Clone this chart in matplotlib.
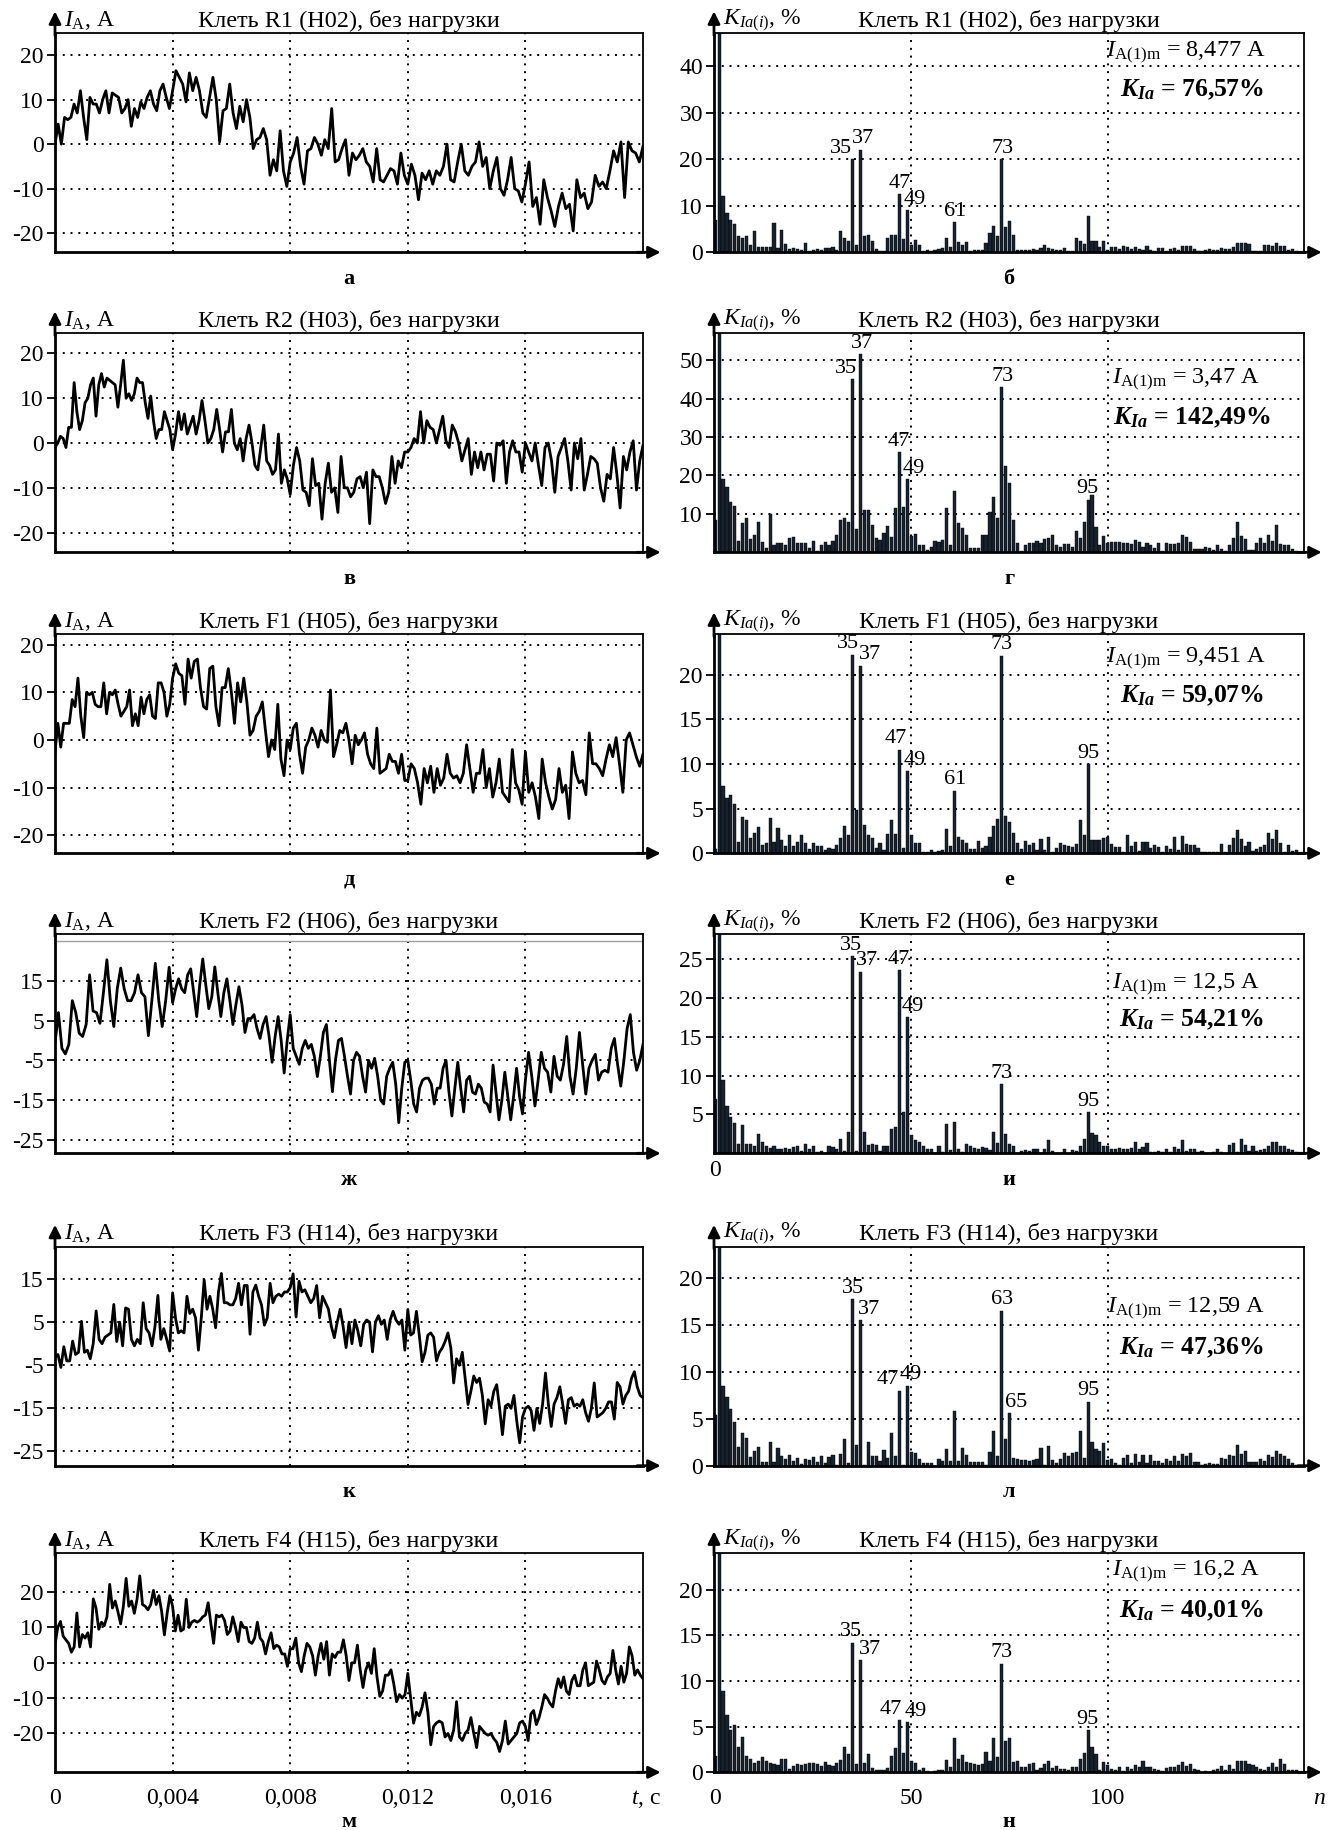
import matplotlib.pyplot as plt
import numpy as np

plt.rcParams['font.family'] = ['Liberation Serif', 'DejaVu Serif']
plt.rcParams['mathtext.fontset'] = 'custom'
plt.rcParams['mathtext.rm'] = 'Liberation Serif'
plt.rcParams['mathtext.it'] = 'Liberation Serif:italic'
plt.rcParams['mathtext.bf'] = 'Liberation Serif:bold:italic'
plt.rcParams['font.size'] = 16

# ---- oscillograms: current values per 4 ms interval
wave_r1 = [
    [0, 4.5, 0, 6, 5.5, 6, 9, 7, 12, 6, 1, 10.5, 9, 9, 7, 10, 12, 7, 11.5, 11, 10.5, 7, 8, 10, 4, 8, 6, 9.5, 8,
     10.5, 12, 9, 7.5, 12, 13.5, 10.5, 8],
    [12, 16.5, 15, 13.5, 9.5, 16, 12, 15, 12, 7, 6, 10.5, 15, 10, 0.5, 7.5, 8, 13.5, 7, 3.5, 8.5, 5, 10, 6, -1,
     1, 1.5, 3.5, 1, -7, -3.5, -6, 3, -6, -9.5],
    [-4, -2, 1.5, -5, -9, -1.5, -1, 1.5, 0, -2.5, 1, -1, 8, -4, -3.5, -1, 1, -7, -2, -3.5, -2.5, -1, -4, -5,
     -8.5, -1, -8, -8.5, -7, -5.5, -6, -9, -2, -7],
    [-9, -4.5, -7, -12.5, -6.5, -8, -6, -9, -6, -7, -5, 0, -8, -8.5, -4, 0, -6, -7, -5, -4, 0.5, -5, -3, -10,
     -6, -3, -10, -11.5, -8, -3, -10, -10.5, -13],
    [-9, -4, -14, -12, -18, -8, -12, -15, -18.5, -14, -11, -14.5, -13.5, -19.5, -8, -12, -11, -14.5, -13, -7,
     -9.5, -8.5, -10, -6, -1.5, -4, 0.5, -12, 0.5, -1.5, -2, -4, -0.5],
]
wave_r2 = [
    [-1, 0, 1.5, 1, -1, 3.5, 3.5, 13.5, 7, 3, 5, 9, 10, 13, 14.5, 6, 13, 15.5, 12.5, 14.5, 14, 13.5, 13, 8, 13,
     18.5, 10, 11, 9.5, 11, 14.5, 13.5, 13.5, 9, 5.5, 10.5, 5, 1, 3, 3, 7, 5, 3],
    [-1.5, 2, 7, 3, 6.5, 2, 4, 6, 2, 5, 9.5, 5, 0, 1, 3, 7.5, 3, -2, 2.5, 2.5, 7.5, 0, -1.5, 1, -4, 1, 4, 0,
     -5, -6, -1, 4, -4, -5, -7, -6, 2, -9, -6, -8],
    [-11.5, -5, -1, -4, -10.5, -11, -14, -3.5, -9.5, -9, -17, -9, -4.5, -11, -10, -15.5, -3, -10, -10, -12,
     -11, -8, -7.5, -10, -6.5, -18, -6, -7.5, -7.5, -10, -13.5, -11, -3, -9, -4, -5.5, -2],
    [-2, -1, 1, 0, 7, 0, 5, 3.5, 3, 0, 3, 6, 0.5, -1, 4, 2.5, 0, -4, -1.5, 1, -7, -2, -5.5, -2, -6, -2.5,
     -2.5, -8.5, 0, -0.5, 0.5, -9, -2, 0.5, -2, -2, -6.5],
    [0, -2, -4, 0, -5, -9.5, -1, 0, -4, -11, -3, -1, 1, -4, -10.5, 0, -3.5, 1, -10.5, -7, -3, -3.5, -4.5,
     -10, -13, -7, -8, -1, -7, -14.5, -3, -6, -2, 0.5, -10.5, -4, -0.5],
]
wave_f1 = [
    [-2.5, 3.5, -1.5, 3.5, 3.5, 3.5, 8.5, 7, 13, 5, 0.5, 10, 9.5, 10, 7.5, 7, 7, 12, 5.5, 10, 9.5, 10.5, 7.5,
     5, 6, 7, 10.5, 3, 5.5, 3, 9, 5.5, 8.5, 9.5, 5, 4.5, 12, 12, 10, 5, 7.5],
    [13, 16, 14, 13.5, 7.5, 17, 13, 16.5, 17, 11, 7, 6.5, 15, 15.5, 7, 3, 11, 11, 15, 10, 3.5, 12, 8, 13, 8,
     1, 2, 5, 6, 8, 2, -3.5, 0, -2, 7.5, -4, -7.5, 0],
    [-2, 2.5, 3.5, -3, -7, -1.5, 0, 2.5, 1, -1.5, 2, 0, -0.5, 10.5, -3.5, -1, 2, 1.5, 3.5, 0, -5, 1, -1, 0,
     1.5, -3, -5, -6, 2.5, -7, -6.5, -6, -3, -4.5, -4.5, -7, -3, -8.5],
    [-8.5, -5, -6, -9, -13.5, -6, -9, -5.5, -11, -6, -9.5, -8, -3, -7, -8, -7.5, -9, -7, -1, -6, -11, -7, -7,
     -2, -10, -6, -12, -9, -4, -11, -12, -13, -2, -9, -10.5, -13.5],
    [-2.5, -11, -9, -12, -16.5, -4, -9, -12, -14.5, -12.5, -6, -11, -9.5, -16.5, -2.5, -7, -9, -8.5, -11.5,
     1.5, -5, -5, -6, -7.5, -4, -1, -3.5, 0.5, -5, -11, 0, 1.5, -1, -3.5, -5.5, -3],
]
wave_f2 = [
    [-0.7, 7, -2, -3.4, -1, 10, 7, 1.8, 1, 4, 16.5, 7.4, 7, 4.3, 12, 20.3, 10, 3.5, 13, 18.2, 13, 10, 10, 12,
     16.5, 12, 11, 1.2, 10, 19.4, 10, 3.5, 10, 18.4],
    [9.5, 13, 15.5, 13, 12, 16.5, 18, 12, 6, 14, 20.5, 14, 8, 11, 18.5, 12, 6, 12, 15.5, 10, 4, 9, 13.5, 9, 2,
     5.5, 5.5, 6.5, 3, 0.5, 4, 6, 1, -5.5, 1, 6, 0, -8.2, 0],
    [6.5, -2, -4, -6, -2, 0, -2, -1, -4, -9.1, -4, 2, 4, -5, -12.9, -5, 0, 0.5, -4, -9, -13.5, -5, -3, -4, -9,
     -13, -5, -7, -4.5, -9, -15, -16, -9, -7, -5.5, -11, -20.7, -12, -5.5],
    [-5, -10, -16, -18, -12, -10, -9.5, -9.5, -11, -16, -12, -12, -7, -5, -13, -19, -12, -5.5, -12, -18, -10,
     -9, -13, -13.5, -11, -12, -15.5, -16, -18, -6.2, -13, -20, -15, -8, -14, -20, -14, -7, -14, -18.5],
    [-10, -3, -9, -16.5, -10, -3, -7, -8, -13, -4, -9, -10, -6, 1, -9, -13.5, -7, 2, -6, -13.5, -7, -5, -3.5,
     -10, -8, -7.5, -8, -2, 0.5, -6, -11.5, -5, 3, 6.5, -3, -7.5, -5, -1],
]
wave_f3 = [
    [-3.1, -2.5, -5.5, -0.7, -4, -4, 0.6, -2.5, -2, 5.2, -2, -1.5, -3.5, 0, 7.6, 1, 0, 1.5, 2, 2.5, 9.1, 0.5,
     5, -0.5, 8.3, 8, 1, -0.5, 1, 0, 9.5, 3.5, 2.5, -0.5, 4, 11.2, 1, 3.5, 1, -1.7],
    [11.8, 6, 2.5, 3, 2.5, 11, 7, 8, 6, -1.5, 6, 14.8, 8, 11, 8, 3.7, 12, 16.3, 9.5, 9.5, 9, 9, 10.5, 14, 9,
     13.5, 13.5, 2.2, 12, 13.6, 11, 9, 4.3, 6, 14, 9.5, 11, 11.5, 11, 12, 12],
    [13, 16.2, 6.2, 14.5, 12, 12.5, 11, 9.5, 10.5, 13.5, 6, 11, 9.5, 8, 4, 1.4, 5, 8, 4, -0.9, 5, 0, 5.5, 3,
     -0.5, 4.5, 5.5, 5, -1.9, 5, 6.5, 4.5, 5.5, 1, 5.5, 7.5, 5.5, 4.5, 5.5, -1.5],
    [7.9, 2, 2.5, 7.5, 2, -4.2, -2, 2, 2.5, 1.5, -4, -2, -1, 0.5, 2.5, -1, -9.1, -3.5, -5, -2, -8, -14.1, -11,
     -7.5, -9, -8, -12, -18.6, -13, -14.5, -11, -9.5, -15, -21.1, -14.5, -14, -15, -12, -18, -23, -17],
    [-15, -14.5, -15.5, -20.1, -15, -18.5, -14, -6.8, -14, -19.2, -14, -12.5, -10, -14, -18.5, -13, -12.5,
     -14.5, -14, -14.5, -13, -16, -18, -15, -9.1, -17, -16.5, -16, -15, -13.5, -13.5, -17.5, -9, -10, -14, -12,
     -11, -8, -6.5, -10, -12, -12.5],
]
wave_f4 = [
    [5, 10, 11.7, 7.5, 6.5, 5.5, 3, 4.5, 14.1, 4.5, 8, 7, 8.5, 4.5, 18.1, 15.5, 9.5, 11.5, 10.5, 13, 22.2,
     15.5, 17.5, 14.5, 11, 16, 23.9, 16, 17.5, 14, 18, 24.6, 16.5, 16, 15, 16.5, 20.5, 16.5, 19, 14.5, 7.9, 14,
     19],
    [16, 9, 13.5, 9, 9.5, 18, 10, 11.5, 12, 11.5, 12, 13, 13.5, 17, 11, 5.5, 13.5, 13, 13.5, 12, 8, 9, 13, 10,
     6, 11.5, 10, 10, 6, 5.5, 7, 11.5, 7, 6, 2.5, 6, 8.5, 4, 5, 4.5, 2.5, 2.5, -1],
    [4, 4, 7, 0, -2.5, 2, 5.5, 4.5, 2, -3.5, 2, 5.5, 1, 6, -3.5, 2.5, 1.5, 3, 3, 6.5, 2, -5, 0, 0, 5, -2, -7,
     -2, 0, -3, 4, -4, -9.5, -8, -3.5, -3.5, -2, -6, -11, -9, -10, -9],
    [-3, -10, -17.1, -14, -15, -12.5, -8.5, -14, -23.2, -18, -17, -16.5, -17, -21, -20, -22, -19, -11, -21,
     -22, -20, -19, -15.5, -20, -24, -18, -19, -20, -20.5, -20, -21.5, -22.5, -25.1, -22, -16.5, -23, -22, -21,
     -20, -17, -16.5],
    [-18, -22, -14.5, -13.5, -17.5, -15.5, -12.5, -9, -10, -11.5, -12.5, -8, -4.5, -7, -4, -8, -9, -5, -3.5,
     -6.5, -6.5, -2, 0, -6.5, -6, -5.5, 0.5, -2, -5, -6, -4, -3, 3.5, -2, -6, -1, -5.5, -3, 4.5, 2, -3.5, -2,
     -3.5, -4.5],
]

# ---- harmonic spectra K_Ia(i), %, n = 0..148 (n = 1 is the fundamental, 100 %)
spec_r1 = [7, 100, 12, 8.5, 7, 6, 3.5, 3, 3.5, 1.5,
           4.5, 1.2, 1.2, 1.2, 1.2, 6.2, 1, 4.7, 1.7, 0.7,
           1, 0.8, 0.5, 2, 0.2, 0.4, 0.7, 0.5, 1, 1,
           1.2, 0.5, 4.5, 3, 2.5, 20, 1.5, 22, 3.5, 3.7,
           2.5, 0.7, 0.3, 0.3, 3, 3.8, 3.8, 12.5, 2.8, 9,
           1.5, 2.7, 1.5, 0.3, 0.5, 0.3, 0.5, 0.8, 1, 3,
           1.2, 6.5, 2.3, 1.5, 2.2, 0.3, 0.5, 0.5, 0.5, 2,
           4.2, 5.7, 3.5, 20, 5.5, 6.7, 3.7, 0.5, 0.5, 0.5,
           0.5, 0.8, 0.5, 1, 1.5, 1, 0.7, 0.5, 0.5, 1,
           0.2, 0.3, 3, 2.5, 1.7, 7.7, 2.5, 2.5, 1.2, 2.5,
           0.5, 1.1, 1.1, 0.8, 1.3, 1.2, 0.8, 1.2, 0.8, 0.5,
           1.3, 0.5, 0.3, 1, 1, 0.3, 0.7, 1, 0.5, 1.3,
           1.3, 1.4, 0.8, 0.3, 0.3, 0.4, 0.7, 0.4, 0.5, 1,
           0.8, 0.8, 1.2, 2, 2, 2, 1.7, 0.2, 0.2, 0.2,
           1.6, 1.6, 1.4, 2, 1.3, 1.3, 0.6, 0.7, 0.3]
spec_r2 = [8.5, 100, 19, 17, 13, 12, 3, 7.5, 9, 3.5,
           4.5, 8, 2.8, 1.2, 10, 2, 2.5, 2.3, 1.8, 3.8,
           4, 2.5, 2.5, 2.5, 1, 3, 0.3, 2, 2.7, 2,
           3, 4.5, 8.5, 9, 8, 45, 6, 51.5, 11, 11,
           7, 3.7, 3.2, 5, 6.8, 4, 11.5, 26, 11.7, 19,
           4.2, 4.8, 2, 2, 0.5, 1.5, 3, 2.8, 3.3, 11.5,
           2, 16, 7.7, 6.2, 4.5, 1.2, 1.2, 1.2, 4.5, 4.5,
           10.5, 14.3, 9, 43, 22.5, 18, 8.5, 2.3, 0.3, 1.8,
           2.5, 2.5, 3, 2.5, 3.5, 3.8, 4.5, 2, 1.5, 2.2,
           2.2, 1.5, 5.5, 3.7, 8, 13.7, 15, 6.7, 2, 4.2,
           2.5, 2.8, 2.8, 2.8, 2.5, 2.5, 2.2, 3.2, 2.7, 1.5,
           2.5, 1.8, 1, 2.5, 0.3, 2.5, 2.2, 2.2, 2.4, 4.6,
           4, 2.8, 0.8, 0.8, 0.8, 1.5, 1.2, 0.7, 2, 0.8,
           0.3, 2, 3.7, 7.8, 4.2, 3.5, 0.7, 0.5, 2.5, 3.7,
           2.5, 4.5, 3, 7, 2.2, 1.8, 1.8, 0.8, 0.3]
spec_f1 = [0.5, 100, 7.5, 6.2, 6.5, 5.5, 1.3, 4.1, 3.7, 1.7,
           2.3, 2.9, 0.9, 1.2, 3.9, 1.3, 2.8, 1.5, 0.8, 2,
           0.8, 1.3, 2, 1.2, 0.5, 1.2, 0.8, 0.8, 0.4, 0.6,
           0.5, 0.9, 1.7, 3.1, 2, 22.2, 4.8, 21, 3.2, 2,
           1.7, 0.6, 1.2, 0.4, 2.2, 3.7, 2.2, 11.6, 0.6, 9.2,
           2, 1.1, 1.1, 0.2, 0.1, 0.4, 0.2, 0.3, 0.4, 2.7,
           0.8, 7, 1.8, 1.5, 1.2, 0.5, 0.5, 1.4, 0.6, 0.8,
           1.8, 3, 3.8, 22.1, 4.2, 3.5, 2.3, 1.2, 0.5, 1.4,
           0.9, 1.2, 0.4, 1.6, 0.4, 1.8, 0.2, 0.6, 1.1, 0.9,
           0.8, 0.7, 1, 3.7, 2, 10, 1.5, 1.5, 1.5, 1.7,
           1.8, 1, 0.7, 0.7, 0.1, 2, 0.8, 1.3, 0.3, 1.3,
           1.3, 0.6, 0.9, 0.7, 0.2, 0.8, 0.5, 1.8, 0.4, 1.9,
           1, 0.9, 0.9, 0.6, 0.1, 0.2, 0.2, 0.2, 0.1, 1,
           0.1, 0.9, 1.7, 2.6, 1.6, 0.8, 1.3, 0.3, 0.5, 0.7,
           0.9, 2.3, 1.6, 2.6, 1.2, 0.1, 0.9, 0.3, 0.4]
spec_f2 = [7, 100, 9.4, 6.1, 4.7, 3.9, 1.2, 3.6, 1.2, 1.2,
           0.9, 2.5, 1.5, 1, 0.7, 1, 0.5, 0.6, 0.7, 0.6,
           0.8, 1, 0.3, 1.2, 0.6, 0.9, 0.2, 0.3, 0.1, 1,
           0.8, 0.6, 1.8, 0.3, 2.8, 25.4, 0.3, 23.4, 2.7, 1.1,
           1.2, 1.1, 0.3, 0.9, 0.9, 3.1, 3.4, 23.6, 5.3, 17.5,
           2.4, 1.7, 1.5, 0.9, 0.6, 0.6, 0.1, 0.9, 0.2, 3.8,
           0.4, 4, 0.5, 0.2, 1.2, 1, 0.7, 0.5, 0.8, 0.7,
           0.4, 2.7, 1.3, 8.9, 2.5, 1.2, 1, 0.1, 0.3, 0.4,
           0.3, 0.6, 0.6, 0.1, 0.6, 1.7, 0.3, 0.1, 0.1, 0.5,
           0.1, 0.4, 0.3, 1, 1.8, 5.3, 2.6, 2.4, 1.4, 1,
           1, 0.5, 0.6, 0.7, 0.5, 0.6, 0.7, 1.5, 0.5, 0.8,
           1.3, 0.2, 0.2, 0.3, 0.2, 0.6, 0.2, 0.8, 0.6, 1.7,
           0.3, 0.6, 0.5, 0.2, 0.3, 0.1, 0.1, 0.2, 0.5, 0.2,
           0.1, 1.1, 1.3, 0.2, 1.8, 1.1, 0.3, 0.9, 0.3, 0.4,
           0.6, 0.9, 1.5, 1.5, 1, 0.9, 0.6, 0.4, 0.2]
spec_f3 = [5.4, 100, 8.5, 7.3, 6, 4.7, 2, 3.5, 2.9, 0.9,
           1.6, 2, 0.4, 0.4, 2.5, 0.4, 1.9, 1, 0.7, 1.1,
           0.5, 0.8, 0.2, 0.7, 0.6, 0.9, 0.4, 1, 0.3, 0.9,
           1.1, 0.1, 1.2, 2.8, 0.3, 17.7, 2.2, 15.5, 0.1, 2.5,
           1, 1, 0.5, 1.7, 0.8, 3.5, 1, 8, 0.1, 8.5,
           1.5, 1.3, 0.7, 0.3, 0.3, 0.3, 0, 0.7, 0.5, 1.8,
           0.5, 5.8, 0.5, 1.9, 1.1, 0.4, 0.4, 0.4, 0.4, 0.1,
           1.5, 3.7, 1, 16.5, 2.8, 5.6, 0.8, 0.7, 0.6, 0.6,
           0.5, 0.6, 0.7, 1.9, 0.1, 2.1, 0.6, 0.3, 0.7, 1.3,
           1, 1.4, 1.5, 3.7, 0.8, 6.8, 2.5, 1.8, 1.6, 2.4,
           0.6, 0.7, 0.3, 0.1, 0.8, 1.1, 0.3, 1.2, 0.4, 1.1,
           0.3, 1.1, 0.5, 0.5, 0.3, 0.7, 0.5, 1, 0.5, 1.2,
           1, 1.4, 0.4, 0.4, 0.1, 0.2, 0.3, 0.2, 0.2, 0.8,
           0.7, 1.1, 1, 2.2, 1.2, 1.6, 0.4, 0.4, 0.4, 0.7,
           0.5, 1.1, 0.9, 1.6, 1.2, 1, 0.7, 0.3, 0.1]
spec_f4 = [1.8, 100, 8.9, 6.3, 4.6, 5.2, 2.8, 3.9, 1.8, 1.5,
           1, 1.2, 1.7, 1.2, 1, 0.9, 0.8, 1.5, 1.5, 0.4,
           0.7, 0.9, 0.8, 0.9, 1, 1, 0.9, 0.7, 1.1, 0.8,
           0.7, 1, 1.4, 2.8, 2, 14.2, 0.9, 12.3, 1, 2,
           0.5, 0.2, 0.3, 0.3, 0.5, 1.8, 2.7, 5.7, 2.1, 5.5,
           1.2, 1, 0.3, 0.5, 0.1, 0, 0.1, 0.2, 0.2, 1.4,
           0.6, 3.8, 1.5, 1.9, 1.1, 1, 0.9, 0.8, 0.9, 2.2,
           1.2, 3.8, 1.7, 11.9, 3.4, 3.8, 1.1, 1.2, 0.6, 0.6,
           0.9, 1, 0.3, 0.5, 0.9, 1.2, 0.5, 0.7, 0.4, 0.4,
           0.3, 0.6, 0.6, 1.5, 2.1, 4.6, 2.8, 2, 0.3, 1.1,
           0.8, 0.4, 0.2, 0.6, 0.1, 0.6, 0.4, 0.8, 0.6, 1.2,
           0.6, 0.6, 0.4, 0.2, 0.1, 0.5, 0.6, 0.6, 0.8, 1.1,
           0.7, 0.9, 0.4, 0.3, 0, 0.1, 0, 0.3, 0.4, 0.7,
           0.2, 0.8, 0.4, 1.2, 1.2, 1.2, 0.9, 0.8, 0.6, 0.4,
           0.3, 0.6, 1, 0.6, 1.5, 0.9, 0.2, 0.3, 0.3]

stands = ['R1 (H02)', 'R2 (H03)', 'F1 (H05)', 'F2 (H06)', 'F3 (H14)', 'F4 (H15)']
i1m = ['8,477', '3,47', '9,451', '12,5', '12,59', '16,2']
k_ia = ['76,57', '142,49', '59,07', '54,21', '47,36', '40,01']
waves = [wave_r1, wave_r2, wave_f1, wave_f2, wave_f3, wave_f4]
specs = [spec_r1, spec_r2, spec_f1, spec_f2, spec_f3, spec_f4]
# (harmonic number, label text, horizontal shift of the label in harmonics)
peaks = [
    [(35, '35', -2.9), (37, '37', 0.6), (47, '47', 0), (49, '49', 1.8), (61, '61', 0), (73, '73', 0.3)],
    [(35, '35', -1.8), (37, '37', 0.4), (47, '47', -0.3), (49, '49', 1.6), (73, '73', 0.3), (95, '95', -0.3)],
    [(35, '35', -1.1), (37, '37', 2.4), (47, '47', -1), (49, '49', 1.9), (61, '61', 0), (73, '73', 0),
     (95, '95', 0)],
    [(35, '35', -0.5), (37, '37', 1.8), (47, '47', -0.2), (49, '49', 1.4), (73, '73', 0), (95, '95', 0)],
    [(35, '35', 0), (37, '37', 2.3), (47, '47', -3), (49, '49', 0.8), (73, '63', 0), (75, '65', 1.8),
     (95, '95', 0)],
    [(35, '35', -0.5), (37, '37', 2.4), (47, '47', -2.4), (49, '49', 2.1), (73, '73', 0), (95, '95', -0.3)],
]
left_ticks = [[-20, -10, 0, 10, 20]] * 3 + [[-25, -15, -5, 5, 15]] * 2 + [[-20, -10, 0, 10, 20]]
left_lims = [(-24.3, 24.9), (-24.4, 24.5), (-23.8, 22.2), (-28.4, 26.7), (-28.3, 22.5), (-31, 31)]
right_ticks = [[0, 10, 20, 30, 40], [10, 20, 30, 40, 50], [0, 5, 10, 15, 20],
               [5, 10, 15, 20, 25], [0, 5, 10, 15, 20], [0, 5, 10, 15, 20]]
right_top = [47, 57, 24.5, 28.2, 23.3, 24.0]
letters_left = ['а', 'в', 'д', 'ж', 'к', 'м']
letters_right = ['б', 'г', 'е', 'и', 'л', 'н']
i_y = [0.911, 0.787, 0.886, 0.77, 0.714, 0.916]
k_y = [0.74, 0.612, 0.718, 0.61, 0.538, 0.739]

W, H = 1333, 1830
row_top = [33.3, 333.3, 634.3, 934.3, 1246.7, 1553.3]
box_h = 219
dots = (0, (1, 3))


def seg_times(segs):
    parts = []
    for k, s in enumerate(segs):
        last = k == len(segs) - 1
        parts.append(np.linspace(0.004 * k, 0.004 * (k + 1), len(s), endpoint=last))
    return np.concatenate(parts)


def frame(ax):
    for s in ['top', 'right']:
        ax.spines[s].set_linewidth(1.3)
    for s in ['left', 'bottom']:
        ax.spines[s].set_linewidth(2.0)
    ax.annotate('', xy=(0, 1.1), xytext=(0, 0.99), xycoords='axes fraction',
                arrowprops=dict(arrowstyle='-|>', color='k', lw=2.0, mutation_scale=18,
                                shrinkA=0, shrinkB=0))
    ax.annotate('', xy=(1.03, 0), xytext=(0.99, 0), xycoords='axes fraction',
                arrowprops=dict(arrowstyle='-|>', color='k', lw=2.0, mutation_scale=18,
                                shrinkA=0, shrinkB=0))
    ax.tick_params(axis='y', direction='out', length=6, width=1.3, labelsize=17, pad=2)
    ax.tick_params(axis='x', length=0, labelsize=17)


fig = plt.figure(figsize=(W / 100, H / 100), dpi=100)

for r in range(6):
    y0 = 1 - (row_top[r] + box_h) / H
    last = r == 5

    # oscillogram
    ax = fig.add_axes([55 / W, y0, 588 / W, box_h / H])
    segs = waves[r]
    t = seg_times(segs)
    i = np.concatenate(segs)
    for v in [0.004, 0.008, 0.012, 0.016]:
        ax.axvline(v, color='k', lw=1.4, ls=dots, zorder=1)
    for v in left_ticks[r]:
        ax.axhline(v, color='k', lw=1.4, ls=dots, zorder=1)
    if r == 3:
        ax.axhline(25.1, color='#a0a0a0', lw=1.0, zorder=1)
    ax.plot(t, i, color='k', lw=2.0, zorder=3)
    ax.set_xlim(0, 0.02)
    ax.set_ylim(*left_lims[r])
    ax.set_yticks(left_ticks[r])
    ax.set_yticklabels([str(v) for v in left_ticks[r]])
    frame(ax)
    if last:
        ax.set_xticks([0, 0.004, 0.008, 0.012, 0.016])
        ax.set_xticklabels(['0', '0,004', '0,008', '0,012', '0,016'])
        ax.tick_params(axis='x', pad=11)
        ax.text(1.005, -0.12, r'$t$, с', transform=ax.transAxes, ha='center', va='center', fontsize=17)
    else:
        ax.set_xticks([])
    ax.text(0.015, 1.058, r'$I_{\mathrm{A}}$, А', transform=ax.transAxes, ha='left', va='center',
            fontsize=17)
    ax.text(0.5, 1.058, 'Клеть ' + stands[r] + ', без нагрузки', transform=ax.transAxes,
            ha='center', va='center', fontsize=17.5)
    ax.text(0.5, -0.228 if last else -0.12, letters_left[r], transform=ax.transAxes,
            ha='center', va='center', fontsize=16, fontweight='bold')

    # spectrum
    ax = fig.add_axes([714 / W, y0, 590 / W, box_h / H])
    vals = specs[r]
    n = np.arange(len(vals))
    for v in [50, 100]:
        ax.axvline(v, color='k', lw=1.4, ls=dots, zorder=1)
    for v in right_ticks[r]:
        if v != 0:
            ax.axhline(v, color='k', lw=1.4, ls=dots, zorder=1)
    ax.bar(n, vals, width=0.8, color='#17222e', edgecolor='k', lw=0.3, zorder=2)
    for k, txt, dx in peaks[r]:
        ax.annotate(txt, xy=(k, vals[k]), xytext=(dx * 2.8, 1), textcoords='offset points',
                    ha='center', va='bottom', fontsize=16)
    ax.set_xlim(-0.3, 150)
    ax.set_ylim(0, right_top[r])
    ax.set_yticks(right_ticks[r])
    ax.set_yticklabels([str(v) for v in right_ticks[r]])
    frame(ax)
    if last:
        ax.set_xticks([0, 50, 100])
        ax.set_xticklabels(['0', '50', '100'])
        ax.tick_params(axis='x', pad=11)
        ax.text(1.026, -0.12, r'$n$', transform=ax.transAxes, ha='center', va='center', fontsize=17)
    elif r == 3:
        ax.set_xticks([0])
        ax.set_xticklabels(['0'])
        ax.tick_params(axis='x', pad=5)
    else:
        ax.set_xticks([])
    ax.text(0.015, 1.058, r'$K_{Ia(i)}$, %', transform=ax.transAxes, ha='left', va='center',
            fontsize=17)
    ax.text(0.5, 1.058, 'Клеть ' + stands[r] + ', без нагрузки', transform=ax.transAxes,
            ha='center', va='center', fontsize=17.5)
    ax.text(0.80, i_y[r], r'$I_{\mathrm{A(1)m}}$ = ' + i1m[r] + ' А', transform=ax.transAxes,
            ha='center', va='center', fontsize=17.5)
    ax.text(0.81, k_y[r], r'$\mathbf{K}_{\mathbf{Ia}}$ = ' + k_ia[r] + '%', transform=ax.transAxes,
            ha='center', va='center', fontsize=18.5, fontweight='bold')
    ax.text(0.5, -0.228 if last else -0.12, letters_right[r], transform=ax.transAxes,
            ha='center', va='center', fontsize=16, fontweight='bold')

fig.savefig('out.png', dpi=100)
